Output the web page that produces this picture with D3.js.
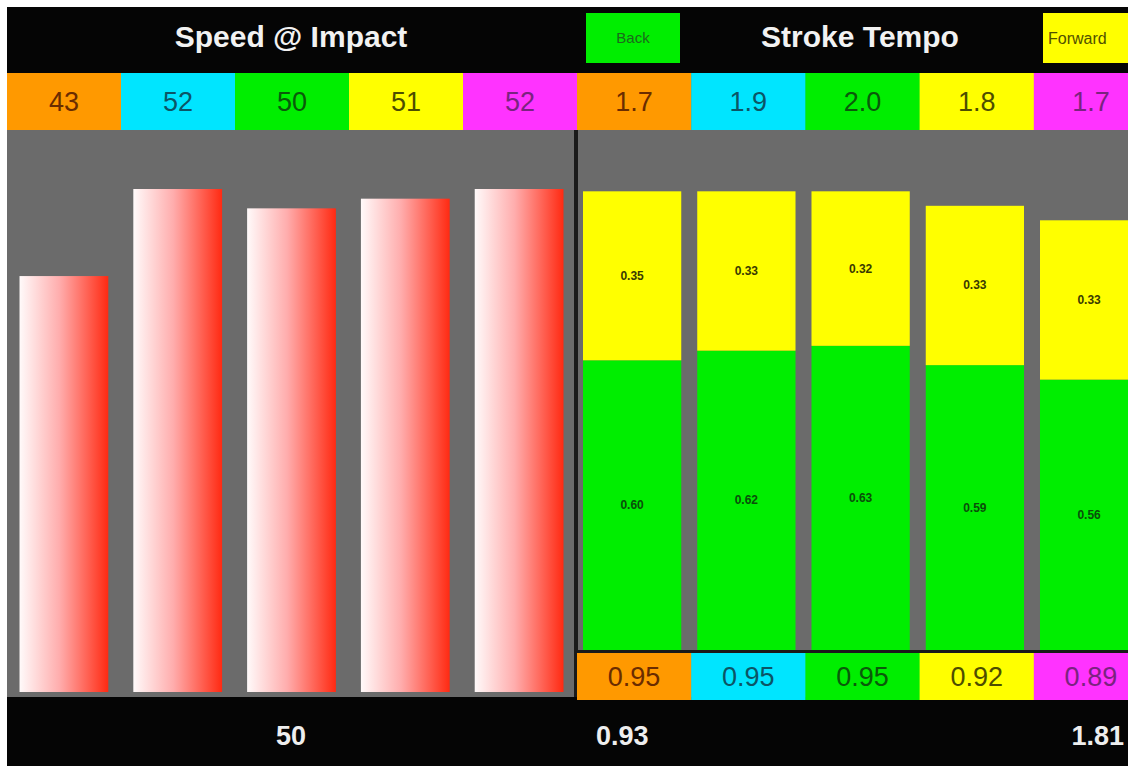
<!DOCTYPE html>
<html><head><meta charset="utf-8">
<script src="https://cdn.jsdelivr.net/npm/d3@7"></script>
<style>html,body{margin:0;padding:0;background:#fff;overflow:hidden}svg{display:block}</style>
</head><body>
<svg id="c" width="1128" height="766"></svg>
<script>
const strokes = ["1","2","3","4","5"];
const speedValues = [43, 52, 50, 51, 52];
const tempoValues = ["1.7","1.9","2.0","1.8","1.7"];
const backValues = [0.60, 0.62, 0.63, 0.59, 0.56];
const forwardValues = [0.35, 0.33, 0.32, 0.33, 0.33];
const totalValues = ["0.95","0.95","0.95","0.92","0.89"];
const speedAvg = "50";
const totalAvg = "0.93";
const tempoAvg = "1.81";
const cellColors = ["#ff9900","#00e5ff","#00ee00","#ffff00","#ff33ff"];
const cellText = ["#6a2c00","#0b5566","#0a5a0a","#4d4d00","#7a2380"];

const svg = d3.select("#c");
const font = "'Liberation Sans', Arial, sans-serif";

// backgrounds
svg.append("rect").attr("x",7).attr("y",7).attr("width",1121).attr("height",759).attr("fill","#050505");
svg.append("rect").attr("x",7).attr("y",130).attr("width",1121).attr("height",567).attr("fill","#6b6b6b");

// gradient
const defs = svg.append("defs");
const g = defs.append("linearGradient").attr("id","redgrad").attr("x1","0").attr("x2","1").attr("y1","0").attr("y2","0");
g.append("stop").attr("offset","0").attr("stop-color","#fffafa");
g.append("stop").attr("offset","0.45").attr("stop-color","#ffadad");
g.append("stop").attr("offset","1").attr("stop-color","#ff2a12");

// Header titles
svg.append("text").attr("x",291).attr("y",47).attr("text-anchor","middle")
  .attr("font-family",font).attr("font-weight","bold").attr("font-size",30).attr("fill","#f2f2f2").text("Speed @ Impact");
svg.append("text").attr("x",860).attr("y",47).attr("text-anchor","middle")
  .attr("font-family",font).attr("font-weight","bold").attr("font-size",30).attr("fill","#f2f2f2").text("Stroke Tempo");

// legend boxes
svg.append("rect").attr("x",586).attr("y",13).attr("width",94).attr("height",50).attr("fill","#00ee00");
svg.append("text").attr("x",633).attr("y",43).attr("text-anchor","middle").attr("font-family",font)
  .attr("font-size",15).attr("fill","#1c6a1c").text("Back");
svg.append("rect").attr("x",1043).attr("y",13).attr("width",90).attr("height",50).attr("fill","#ffff00");
svg.append("text").attr("x",1048).attr("y",44).attr("font-family",font)
  .attr("font-size",16).attr("fill","#505000").text("Forward");

// color rows
const xCellL = d3.scaleBand().domain(strokes).range([7,577]).padding(0);
const xCellR = d3.scaleBand().domain(strokes).range([577,1148]).padding(0);

function cellRow(scale, vals, y, h, fs, ty){
  const gg = svg.append("g");
  gg.selectAll("rect").data(strokes).join("rect")
    .attr("x",d=>scale(d)).attr("y",y).attr("width",scale.bandwidth()+0.5).attr("height",h)
    .attr("fill",(d,i)=>cellColors[i]);
  gg.selectAll("text").data(strokes).join("text")
    .attr("x",d=>scale(d)+scale.bandwidth()/2).attr("y",ty)
    .attr("text-anchor","middle").attr("font-family",font).attr("font-size",fs)
    .attr("fill",(d,i)=>cellText[i]).text((d,i)=>vals[i]);
}
cellRow(xCellL, speedValues, 73, 57, 27, 111);
cellRow(xCellR, tempoValues, 73, 57, 27, 111);

// left bars
const xL = d3.scaleBand().domain(strokes).range([7,576]).paddingInner(0.22).paddingOuter(0.11);
const yL = d3.scaleLinear().domain([0,58.1]).range([692,130]);
svg.append("g").selectAll("rect").data(strokes).join("rect")
  .attr("x",d=>xL(d)).attr("width",xL.bandwidth())
  .attr("y",(d,i)=>yL(speedValues[i])).attr("height",(d,i)=>yL(0)-yL(speedValues[i]))
  .attr("fill","url(#redgrad)");

// divider
svg.append("rect").attr("x",574).attr("y",130).attr("width",4).attr("height",567).attr("fill","#1a1a1a");

// right stacked bars
const xR = d3.scaleBand().domain(strokes).range([575,1146.25]).paddingInner(0.14).paddingOuter(0.07);
const yR = d3.scaleLinear().domain([0,1.077]).range([650,130]);
const stackData = strokes.map((d,i)=>({key:d, back:backValues[i], forward:forwardValues[i]}));
const series = d3.stack().keys(["back","forward"])(stackData);
const segColor = {back:"#00ee00", forward:"#ffff00"};
const segText = {back:"#0a4f0a", forward:"#3a3a00"};
const sg = svg.append("g").selectAll("g").data(series).join("g");
sg.selectAll("rect").data(s=>s.map(v=>Object.assign(v,{k:s.key}))).join("rect")
  .attr("x",d=>xR(d.data.key)).attr("width",xR.bandwidth())
  .attr("y",d=>yR(d[1])).attr("height",d=>yR(d[0])-yR(d[1]))
  .attr("fill",d=>segColor[d.k]);
sg.selectAll("text").data(s=>s).join("text")
  .attr("x",d=>xR(d.data.key)+xR.bandwidth()/2).attr("y",d=>(yR(d[0])+yR(d[1]))/2+4)
  .attr("text-anchor","middle").attr("font-family",font).attr("font-size",12).attr("font-weight","bold")
  .attr("fill",d=>segText[d.k]).text(d=>d.data[d.k].toFixed(2));

// bottom totals row
svg.append("rect").attr("x",577).attr("y",650).attr("width",551).attr("height",3).attr("fill","#1a1a1a");
cellRow(xCellR, totalValues, 653, 47, 27, 686);

// bottom summary
svg.append("text").attr("x",291).attr("y",745).attr("text-anchor","middle").attr("font-family",font)
  .attr("font-size",27).attr("font-weight","bold").attr("fill","#eeeeee").text(speedAvg);
svg.append("text").attr("x",596).attr("y",745).attr("font-family",font)
  .attr("font-size",27).attr("font-weight","bold").attr("fill","#eeeeee").text(totalAvg);
svg.append("text").attr("x",1124).attr("y",745).attr("text-anchor","end").attr("font-family",font)
  .attr("font-size",27).attr("font-weight","bold").attr("fill","#eeeeee").text(tempoAvg);
</script>
</body></html>
